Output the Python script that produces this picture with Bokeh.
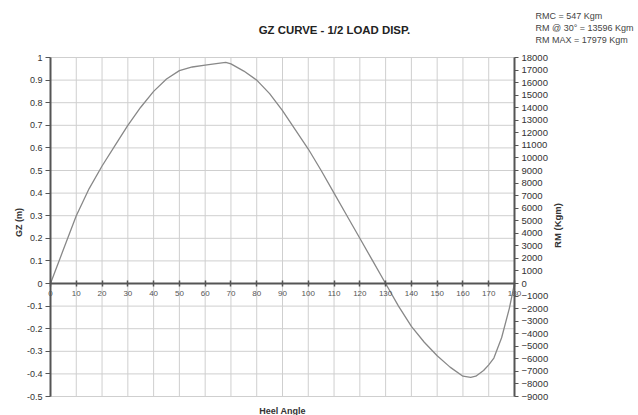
import math
from bokeh.plotting import figure
from bokeh.models import (Range1d, LinearAxis, FixedTicker, CustomJSTickFormatter, Label,
                          ColumnDataSource)
from bokeh.embed import file_html
from bokeh.resources import INLINE

# ---- data ----
heel_angle = [0, 5, 10, 15, 20, 25, 30, 35, 40, 45, 50, 55, 60, 65, 68, 70, 75, 80, 85, 90,
              95, 100, 105, 110, 115, 120, 125, 130, 135, 140, 145, 150, 155, 160, 163, 165,
              168, 170, 172, 175, 178, 180]
gz = [0.0, 0.15, 0.30, 0.42, 0.52, 0.61, 0.70, 0.78, 0.85, 0.905, 0.942, 0.958, 0.966, 0.974,
      0.978, 0.972, 0.94, 0.90, 0.84, 0.765, 0.68, 0.595, 0.50, 0.40, 0.30, 0.20, 0.10, 0.0,
      -0.10, -0.19, -0.26, -0.32, -0.37, -0.41, -0.415, -0.41, -0.385, -0.36, -0.33, -0.24,
      -0.11, 0.0]

x_ticks = [0, 10, 20, 30, 40, 50, 60, 70, 80, 90, 100, 110, 120, 130, 140, 150, 160, 170, 180]
gz_ticks = [-0.5, -0.4, -0.3, -0.2, -0.1, 0.0, 0.1, 0.2, 0.3, 0.4, 0.5, 0.6, 0.7, 0.8, 0.9, 1.0]
rm_ticks = [-9000, -8000, -7000, -6000, -5000, -4000, -3000, -2000, -1000, 0, 1000, 2000,
            3000, 4000, 5000, 6000, 7000, 8000, 9000, 10000, 11000, 12000, 13000, 14000,
            15000, 16000, 17000, 18000]
RM_PER_GZ = 18000  # right axis 18000 Kgm aligns with GZ 1.0

title_text = "GZ CURVE - 1/2 LOAD DISP."
info_lines = ["RMC = 547 Kgm", "RM @ 30\u00b0 = 13596 Kgm", "RM MAX = 17979 Kgm"]
x_title = "Heel Angle"
y_title = "GZ (m)"
y2_title = "RM (Kgm)"

FONT = "Liberation Sans"
AXIS_COLOR = "#555555"
GRID_COLOR = "#cfcfcf"

W, H = 638, 415
# plot area in pixels: x 0..180 -> 50..514, GZ 1.0..-0.5 -> 57..396
px_per_x = (514 - 50) / 180.0
px_per_y = (396 - 57) / 1.5
x0 = 0 - 50 / px_per_x
x1 = 0 + (W - 50) / px_per_x
y1 = 1.0 + 57 / px_per_y
y0 = -0.5 - (H - 396) / px_per_y

p = figure(width=W, height=H, x_range=Range1d(x0, x1), y_range=Range1d(y0, y1),
           output_backend="svg", toolbar_location=None,
           min_border_left=0, min_border_right=0, min_border_top=0, min_border_bottom=0)
p.outline_line_color = None
p.background_fill_color = "white"
p.border_fill_color = "white"
p.xgrid.visible = False
p.ygrid.visible = False

# grid lines limited to the plot area
p.segment(x0=x_ticks, y0=[gz_ticks[0]] * len(x_ticks), x1=x_ticks,
          y1=[gz_ticks[-1]] * len(x_ticks), line_color=GRID_COLOR, line_width=1)
p.segment(x0=[x_ticks[0]] * len(gz_ticks), y0=gz_ticks, x1=[x_ticks[-1]] * len(gz_ticks),
          y1=gz_ticks, line_color=GRID_COLOR, line_width=1)

# x axis at GZ = 0
xa = p.xaxis[0]
xa.ticker = FixedTicker(ticks=x_ticks)
xa.fixed_location = 0
xa.bounds = (x_ticks[0], x_ticks[-1])
xa.axis_line_color = AXIS_COLOR
xa.axis_line_width = 2
xa.major_tick_line_color = AXIS_COLOR
xa.major_tick_line_width = 1.5
xa.major_tick_in = 3
xa.major_tick_out = 3
xa.minor_tick_line_color = None
xa.major_label_text_font = FONT
xa.major_label_text_font_size = "8px"
xa.major_label_text_color = "#555555"
xa.major_label_standoff = 4

# left axis at heel 0
ya = p.yaxis[0]
ya.ticker = FixedTicker(ticks=gz_ticks)
ya.formatter = CustomJSTickFormatter(code="return String(Math.round(tick*10)/10);")
ya.fixed_location = 0
ya.bounds = (gz_ticks[0], gz_ticks[-1])
ya.axis_line_color = AXIS_COLOR
ya.axis_line_width = 2
ya.major_tick_line_color = AXIS_COLOR
ya.major_tick_in = 0
ya.major_tick_out = 5
ya.minor_tick_line_color = None
ya.major_label_text_font = FONT
ya.major_label_text_font_size = "9px"
ya.major_label_text_color = "#333333"
ya.major_label_standoff = 3

# right axis (RM) at heel 180
p.extra_y_ranges = {"rm": Range1d(y0 * RM_PER_GZ, y1 * RM_PER_GZ)}
ra = LinearAxis(y_range_name="rm", ticker=FixedTicker(ticks=rm_ticks))
ra.fixed_location = x_ticks[-1]
ra.bounds = (rm_ticks[0], rm_ticks[-1])
ra.axis_line_color = AXIS_COLOR
ra.axis_line_width = 2
ra.major_tick_line_color = AXIS_COLOR
ra.major_tick_in = 0
ra.major_tick_out = 4
ra.minor_tick_line_color = None
ra.major_label_text_font = FONT
ra.major_label_text_font_size = "9.5px"
ra.major_label_text_color = "#333333"
ra.major_label_standoff = 3
p.add_layout(ra, "right")

# curve
src = ColumnDataSource(dict(x=heel_angle, y=gz))
p.line("x", "y", source=src, line_color="#888888", line_width=1.3)

# texts
def pxx(px):
    return (px - 50) / px_per_x

def pxy(py):
    return 1.0 - (py - 57) / px_per_y

p.add_layout(Label(x=pxx(334), y=pxy(29), text=title_text, text_font=FONT,
                   text_font_size="11.4px", text_font_style="bold", text_color="#222222",
                   text_align="center", text_baseline="middle"))
for i, t in enumerate(info_lines):
    p.add_layout(Label(x=pxx(535), y=pxy(15 + 12 * i), text=t, text_font=FONT,
                       text_font_size="9px", text_color="#444444", text_align="left",
                       text_baseline="middle"))
p.add_layout(Label(x=pxx(18), y=pxy(222), text=y_title, angle=math.pi / 2, text_font=FONT,
                   text_font_size="9px", text_font_style="bold", text_color="#333333",
                   text_align="center", text_baseline="middle"))
p.add_layout(Label(x=pxx(557), y=pxy(225), text=y2_title, angle=math.pi / 2, text_font=FONT,
                   text_font_size="9.5px", text_font_style="bold", text_color="#333333",
                   text_align="center", text_baseline="middle"))
p.add_layout(Label(x=pxx(282), y=pxy(410), text=x_title, text_font=FONT, text_font_size="9px",
                   text_font_style="bold", text_color="#333333", text_align="center",
                   text_baseline="middle"))

open("out.html", "w").write(file_html(p, INLINE))
